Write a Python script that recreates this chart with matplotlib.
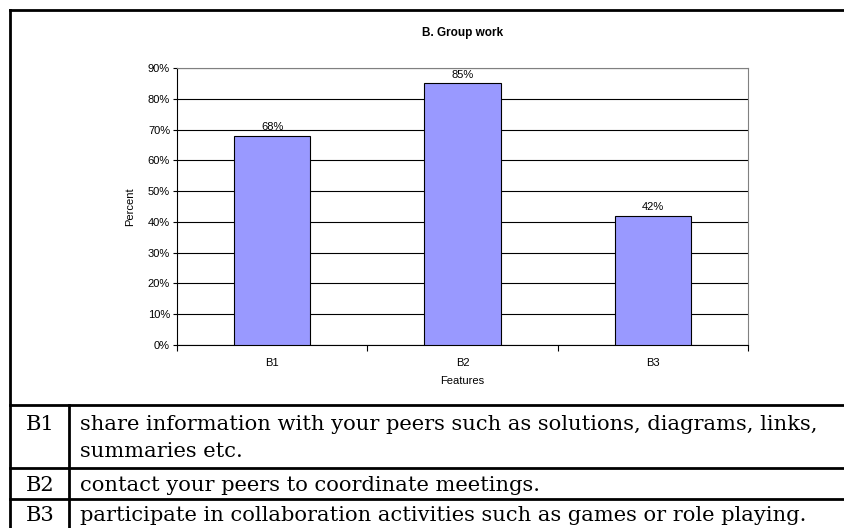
import matplotlib
matplotlib.use('Agg')
import matplotlib.pyplot as plt
from matplotlib.lines import Line2D

features = ['B1', 'B2', 'B3']
percent = [68, 85, 42]
yticks = [0, 10, 20, 30, 40, 50, 60, 70, 80, 90]
codes = ['B1', 'B2', 'B3']
descriptions = [
    ['share information with your peers such as solutions, diagrams, links,',
     'summaries etc.'],
    ['contact your peers to coordinate meetings.'],
    ['participate in collaboration activities such as games or role playing.'],
]

W, H = 845, 528
fig = plt.figure(figsize=(W / 100, H / 100), dpi=100)


def fx(px):
    return px / W


def fy(py):
    return 1 - py / H


# plot area in pixels
left, right, top, bottom = 177, 748, 68, 345
ax = fig.add_axes([fx(left), fy(bottom), fx(right - left), (bottom - top) / H])

x = list(range(len(features)))
ax.bar(x, percent, width=0.4, color='#9999ff', edgecolor='black', linewidth=0.8, zorder=3)
for i, v in enumerate(percent):
    ax.text(i, v + 1.2, f'{v}%', ha='center', va='bottom', fontsize=8, family='Liberation Sans')

ax.set_xlim(-0.5, len(features) - 0.5)
ax.set_ylim(0, 90)
ax.set_yticks(yticks)
ax.set_yticklabels([f'{t}%' for t in yticks], fontsize=8, family='Liberation Sans')
ax.yaxis.grid(True, color='black', linewidth=0.8, zorder=0)
ax.set_xticks(x)
ax.set_xticklabels(features, fontsize=8, family='Liberation Sans')
ax.tick_params(axis='x', length=0, pad=9)
ax.tick_params(axis='y', length=3, width=0.8, pad=2)
# category boundary ticks
ax.set_xticks([-0.5, 0.5, 1.5, 2.5], minor=True)
ax.tick_params(axis='x', which='minor', length=4, width=0.8, direction='out')

for s in ['top', 'right']:
    ax.spines[s].set_color('#808080')
    ax.spines[s].set_linewidth(0.8)
for s in ['left', 'bottom']:
    ax.spines[s].set_color('black')
    ax.spines[s].set_linewidth(0.8)

ax.set_xlabel('Features', fontsize=8, family='Liberation Sans', labelpad=6)
ax.set_ylabel('Percent', fontsize=8, family='Liberation Sans', labelpad=9)
fig.text(fx((left + right) / 2), fy(33), 'B. Group work', ha='center', va='center',
         fontsize=8.5, fontweight='bold', family='Liberation Sans')

# outer frame and table lines
lw = 2.0


def hline(y, x0=10, x1=W):
    fig.add_artist(Line2D([fx(x0), fx(x1)], [fy(y), fy(y)], color='black', linewidth=lw))


def vline(xp, y0, y1):
    fig.add_artist(Line2D([fx(xp), fx(xp)], [fy(y0), fy(y1)], color='black', linewidth=lw))


hline(10)
vline(10, 10, H)
hline(405)
hline(468)
hline(499)
vline(69, 405, H)

baselines = [[430, 457], [491], [521]]
for code, lines, ys in zip(codes, descriptions, baselines):
    fig.text(fx(40), fy(ys[0]), code, ha='center', va='baseline', fontsize=15.1,
             family='DejaVu Serif')
    for line, yy in zip(lines, ys):
        fig.text(fx(80), fy(yy), line, ha='left', va='baseline', fontsize=15.1,
                 family='DejaVu Serif')

fig.savefig('out.png', dpi=100)
